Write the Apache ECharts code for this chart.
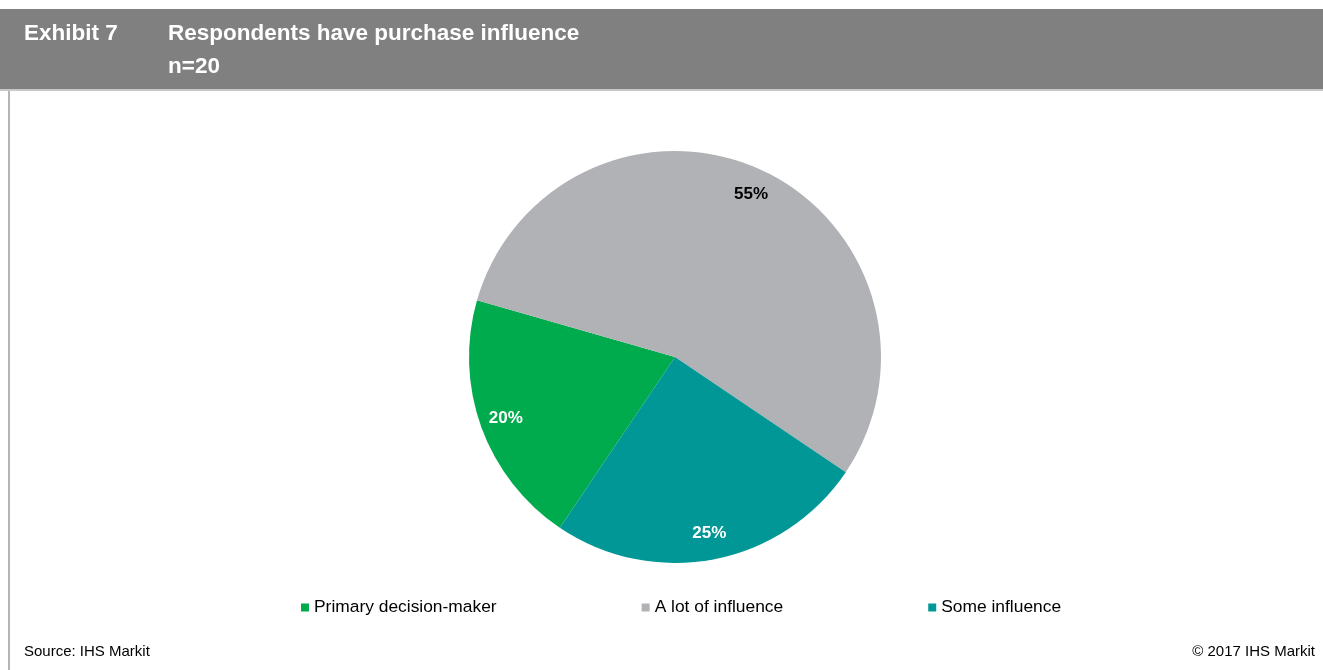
<!DOCTYPE html>
<html>
<head>
<meta charset="utf-8">
<title>Respondents have purchase influence</title>
<script src="https://cdn.jsdelivr.net/npm/echarts@6/dist/echarts.min.js"></script>
<style>
  html, body { margin: 0; padding: 0; background: #ffffff; }
  #chart { width: 1323px; height: 670px; }
</style>
</head>
<body>
<div id="chart"></div>
<script>
// Survey answers, n=20
const categories = ['Primary decision-maker', 'A lot of influence', 'Some influence'];
const shares = [20, 55, 25];
const sliceColors = ['#00ab4e', '#b1b2b5', '#009796'];
const labelColors = ['#ffffff', '#000000', '#ffffff'];

const exhibitLabel = 'Exhibit 7';
const titleText = 'Respondents have purchase influence';
const subtitleText = 'n=20';
const sourceText = 'Source: IHS Markit';
const copyrightText = '\u00a9 2017 IHS Markit';

const FONT = '"Liberation Sans", Arial, Helvetica, sans-serif';
const CENTER = [675, 357];
const R = 206;

const chart = echarts.init(document.getElementById('chart'));

const sliceData = categories.map((name, i) => ({
  name,
  value: shares[i],
  itemStyle: { color: sliceColors[i] }
}));

const labelData = categories.map((name, i) => ({
  name,
  value: shares[i],
  label: { color: labelColors[i] }
}));

chart.setOption({
  animation: false,
  backgroundColor: '#ffffff',
  legend: {
    data: categories,
    left: 301,
    top: 599,
    padding: 0,
    icon: 'rect',
    itemWidth: 8,
    itemHeight: 8,
    itemGap: 145,
    selectedMode: false,
    textStyle: { fontFamily: FONT, fontSize: 17.4, color: '#000000', padding: [0, 0, 0, 0] }
  },
  graphic: [
    // header band
    { type: 'rect', shape: { x: 0, y: 9, width: 1323, height: 80 }, style: { fill: '#7f807f' }, silent: true },
    { type: 'rect', shape: { x: 0, y: 89, width: 1323, height: 2 }, style: { fill: '#c8c8c8' }, silent: true },
    // left frame rule
    { type: 'rect', shape: { x: 8, y: 91, width: 2, height: 579 }, style: { fill: '#b4b4b4' }, silent: true },
    { type: 'text', x: 24, y: 34, style: { text: exhibitLabel, fill: '#ffffff', font: 'bold 22.5px ' + FONT, verticalAlign: 'middle' }, silent: true },
    { type: 'text', x: 168, y: 34, style: { text: titleText, fill: '#ffffff', font: 'bold 22.5px ' + FONT, verticalAlign: 'middle' }, silent: true },
    { type: 'text', x: 168, y: 67, style: { text: subtitleText, fill: '#ffffff', font: 'bold 22.5px ' + FONT, verticalAlign: 'middle' }, silent: true },
    { type: 'text', x: 24, y: 652, style: { text: sourceText, fill: '#000000', font: '15px ' + FONT, verticalAlign: 'middle' }, silent: true },
    { type: 'text', x: 1315, y: 652, style: { text: copyrightText, fill: '#000000', font: '15px ' + FONT, verticalAlign: 'middle', align: 'right' }, silent: true }
  ],
  series: [
    {
      type: 'pie',
      center: CENTER,
      radius: [0, R],
      startAngle: 236,
      clockwise: true,
      data: sliceData,
      label: { show: false },
      labelLine: { show: false },
      emphasis: { disabled: true },
      silent: true
    },
    {
      // transparent ring that carries the percentage labels near the rim
      type: 'pie',
      center: CENTER,
      radius: [148, R],
      startAngle: 236,
      clockwise: true,
      data: labelData,
      itemStyle: { color: 'rgba(0,0,0,0)' },
      label: {
        show: true,
        position: 'inside',
        formatter: '{c}%',
        fontFamily: FONT,
        fontSize: 17,
        fontWeight: 'bold'
      },
      labelLine: { show: false },
      emphasis: { disabled: true },
      silent: true
    }
  ]
});
</script>
</body>
</html>
